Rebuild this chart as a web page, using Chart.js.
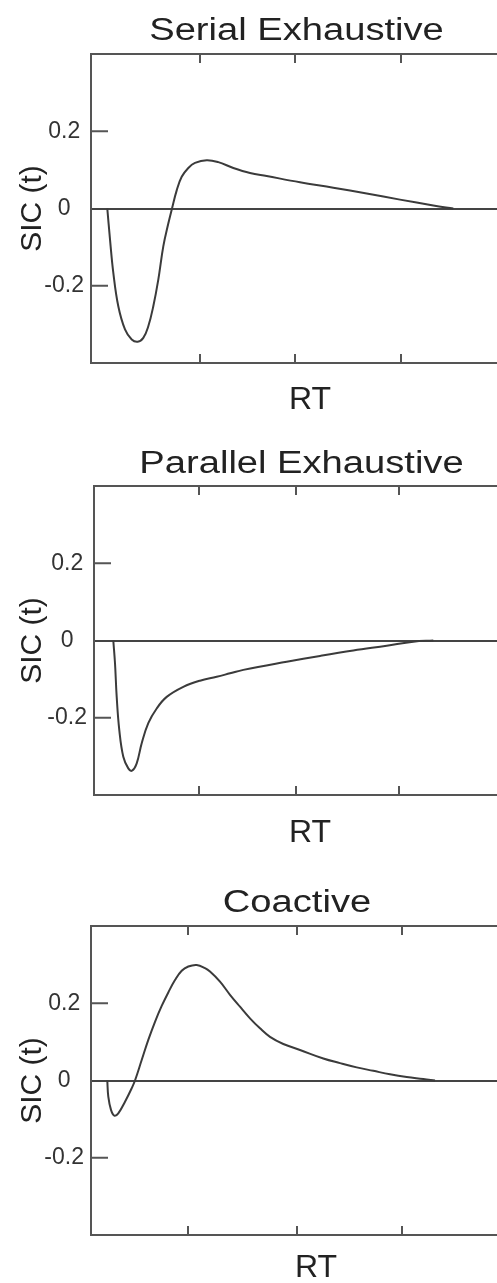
<!DOCTYPE html>
<html>
<head>
<meta charset="utf-8">
<script src="https://cdn.jsdelivr.net/npm/chart.js@4.4.1/dist/chart.umd.min.js"></script>
<style>
  html, body { margin: 0; padding: 0; width: 497px; height: 1283px; overflow: hidden; background: #fff; }
  .panel { position: absolute; left: 0; }
</style>
</head>
<body>
<div class="panel" id="p1" style="top:0px"><canvas id="c1" width="529" height="420"></canvas></div>
<div class="panel" id="p2" style="top:420px"><canvas id="c2" width="526" height="440"></canvas></div>
<div class="panel" id="p3" style="top:860px"><canvas id="c3" width="541" height="440"></canvas></div>
<script>
// ---- Data ----
const titles = ["Serial Exhaustive", "Parallel Exhaustive", "Coactive"];
const xLabel = "RT";
const yLabel = "SIC (t)";
const yTicks = [-0.2, 0, 0.2];

// RT positions of the unlabeled x tick marks in each panel
const xTicksSerial = [1.0, 1.95, 3.01];
const xTicksParallel = [0.99, 1.96, 2.99];
const xTicksCoactive = [0.88, 1.97, 3.02];

// Serial Exhaustive SIC(t)
const serialRT  = [0.073, 0.10, 0.133, 0.183, 0.25, 0.317, 0.377, 0.433, 0.483, 0.533, 0.583, 0.633, 0.683, 0.72, 0.767, 0.817, 0.883, 0.95, 1.067, 1.183, 1.333, 1.5, 1.667, 2.0, 2.333, 2.667, 3.0, 3.333, 3.533];
const serialSIC = [0, -0.080, -0.166, -0.253, -0.313, -0.339, -0.345, -0.335, -0.305, -0.253, -0.184, -0.098, -0.039, 0, 0.047, 0.082, 0.105, 0.118, 0.125, 0.120, 0.105, 0.092, 0.084, 0.068, 0.054, 0.039, 0.023, 0.008, 0];

// Parallel Exhaustive SIC(t)
const parallelRT  = [0.133, 0.15, 0.167, 0.193, 0.233, 0.283, 0.32, 0.367, 0.417, 0.483, 0.567, 0.667, 0.833, 1.0, 1.167, 1.3, 1.433, 1.867, 2.2, 2.533, 2.867, 3.133, 3.333];
const parallelSIC = [0, -0.059, -0.146, -0.232, -0.301, -0.331, -0.337, -0.318, -0.266, -0.214, -0.176, -0.146, -0.120, -0.104, -0.094, -0.085, -0.076, -0.055, -0.040, -0.026, -0.0135, -0.003, 0];

// Coactive SIC(t)
const coactiveRT  = [0.073, 0.083, 0.11, 0.143, 0.183, 0.25, 0.317, 0.35, 0.417, 0.483, 0.55, 0.617, 0.683, 0.75, 0.817, 0.883, 0.967, 1.05, 1.1, 1.2, 1.3, 1.4, 1.5, 1.6, 1.7, 1.833, 2.0, 2.233, 2.4, 2.567, 2.733, 2.9, 3.067, 3.233, 3.35];
const coactiveSIC = [0, -0.042, -0.076, -0.091, -0.085, -0.055, -0.020, 0, 0.053, 0.105, 0.152, 0.193, 0.228, 0.260, 0.284, 0.295, 0.299, 0.291, 0.282, 0.256, 0.222, 0.191, 0.161, 0.135, 0.113, 0.0945, 0.079, 0.057, 0.045, 0.034, 0.025, 0.016, 0.009, 0.004, 0];

// ---- Layout / style ----
const FONT = "'Liberation Sans', Arial, Helvetica, sans-serif";
const TEXT = '#222';
const FRAME = '#555';
const CURVE = '#3b3b3b';

const panels = [
  { id: 'c1', title: titles[0], rt: serialRT, sic: serialSIC, xTicks: xTicksSerial,
    xmin: -0.09, xmax: 4.29, left: 91, top: 54, xh: 57, rtPad: 4, tx: 296.5, ty: 40 },
  { id: 'c2', title: titles[1], rt: parallelRT, sic: parallelSIC, xTicks: xTicksParallel,
    xmin: -0.06, xmax: 4.26, left: 94, top: 66, xh: 65, rtPad: 11, tx: 301.5, ty: 53.3 },
  { id: 'c3', title: titles[2], rt: coactiveRT, sic: coactiveSIC, xTicks: xTicksCoactive,
    xmin: -0.09, xmax: 4.41, left: 91, top: 66, xh: 65, rtPad: 16, tx: 297, ty: 52 }
];

// box frame + inward tick marks, placed through the chart's scales
const framePlugin = {
  id: 'frame',
  afterDatasetsDraw(chart, args, opts) {
    const { ctx, chartArea: a, scales: { x, y } } = chart;
    ctx.save();
    ctx.strokeStyle = FRAME;
    ctx.lineWidth = 2;
    ctx.beginPath();
    ctx.moveTo(a.right, a.top); ctx.lineTo(a.left, a.top);
    ctx.lineTo(a.left, a.bottom); ctx.lineTo(a.right, a.bottom);
    opts.xTicks.forEach(v => {
      const px = x.getPixelForValue(v);
      ctx.moveTo(px, a.top); ctx.lineTo(px, a.top + 9);
      ctx.moveTo(px, a.bottom); ctx.lineTo(px, a.bottom - 9);
    });
    yTicks.forEach(v => {
      if (v === 0) return;
      const py = y.getPixelForValue(v);
      ctx.moveTo(a.left, py); ctx.lineTo(a.left + 17, py);
    });
    ctx.stroke();
    ctx.restore();
  }
};

// panel title (the original is rendered horizontally stretched)
const titlePlugin = {
  id: 'wideTitle',
  afterDraw(chart, args, opts) {
    const { ctx } = chart;
    ctx.save();
    ctx.font = "31px " + FONT;
    ctx.fillStyle = TEXT;
    ctx.textAlign = 'center';
    ctx.textBaseline = 'alphabetic';
    ctx.translate(opts.x, opts.y);
    ctx.scale(1.23, 1);
    ctx.fillText(opts.text, 0, 0);
    ctx.restore();
  }
};

panels.forEach(p => {
  new Chart(document.getElementById(p.id), {
    type: 'line',
    data: {
      datasets: [{
        data: p.rt.map((t, i) => ({ x: t, y: p.sic[i] })),
        borderColor: CURVE,
        borderWidth: 2,
        pointRadius: 0,
        tension: 0.4,
        fill: false
      }]
    },
    options: {
      responsive: false,
      devicePixelRatio: 1,
      animation: false,
      events: [],
      layout: { padding: { top: p.top, left: 0, right: 0, bottom: 0 } },
      plugins: {
        legend: { display: false },
        tooltip: { enabled: false },
        title: { display: false },
        frame: { xTicks: p.xTicks },
        wideTitle: { text: p.title, x: p.tx, y: p.ty }
      },
      scales: {
        x: {
          type: 'linear',
          min: p.xmin,
          max: p.xmax,
          ticks: { display: false },
          grid: { display: false },
          border: { display: false },
          title: {
            display: true,
            text: xLabel,
            color: TEXT,
            font: { family: FONT, size: 32, lineHeight: 1 },
            padding: { top: 0, bottom: p.rtPad }
          },
          afterFit: s => { s.height = p.xh; }
        },
        y: {
          type: 'linear',
          min: -0.4,
          max: 0.4,
          afterBuildTicks: s => { s.ticks = yTicks.map(v => ({ value: v })); },
          ticks: {
            color: '#333',
            font: { family: FONT, size: 23 },
            crossAlign: 'center',
            padding: 7,
            callback: v => (v === 0 ? '0' : v.toFixed(1))
          },
          grid: {
            drawTicks: false,
            lineWidth: 2,
            color: c => (c.tick && c.tick.value === 0 ? '#444' : 'rgba(0,0,0,0)')
          },
          border: { display: false },
          title: {
            display: true,
            text: yLabel,
            color: TEXT,
            font: { family: FONT, size: 30, lineHeight: 1.2 },
            padding: { top: 15, bottom: 0 }
          },
          afterFit: s => { s.width = p.left; }
        }
      }
    },
    plugins: [framePlugin, titlePlugin]
  });
});
</script>
</body>
</html>
